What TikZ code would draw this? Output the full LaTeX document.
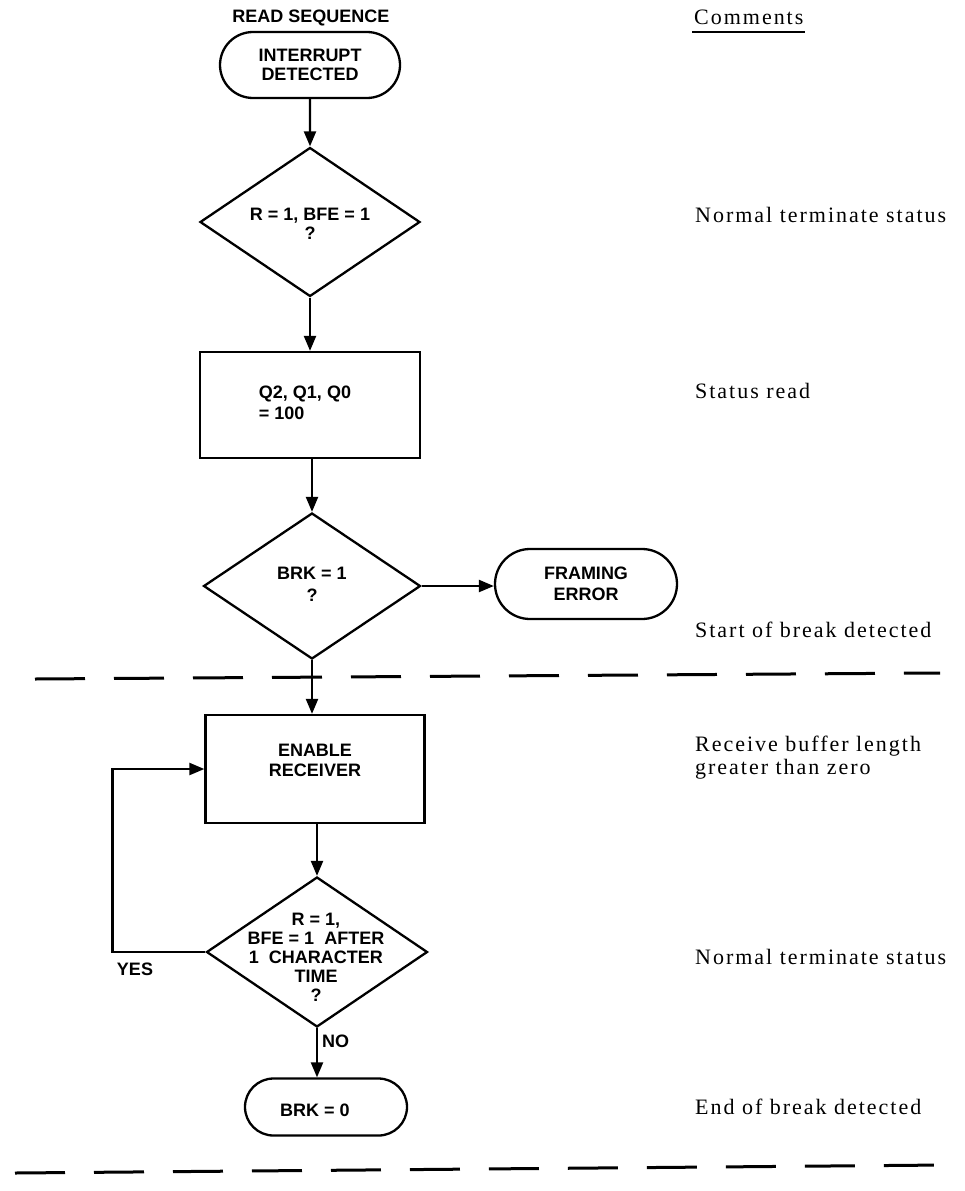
\documentclass[tikz,border=0pt]{standalone}
\usepackage{fontspec}
\setmainfont{Liberation Sans}
\newfontfamily\cmtfont[LetterSpace=9]{Liberation Serif}
\usetikzlibrary{arrows.meta,shapes.geometric,shapes.misc,calc}
\newcommand\lblfont{\fontsize{18}{19}\selectfont\bfseries}
\begin{document}
\begin{tikzpicture}[x=1pt,y=-1pt,
  flow/.style={line width=2.3pt},
  arr/.style={flow,-{Triangle[length=15pt,width=12pt]}},
  term/.style={rounded rectangle,draw,line width=2.3pt,inner sep=0pt,font=\lblfont,align=center},
  dec/.style={diamond,draw,line width=2.3pt,inner sep=0pt},
  proc/.style={rectangle,draw,line width=2.3pt,inner sep=0pt},
  lbl/.style={font=\lblfont,align=center,inner sep=0pt},
  cmt/.style={font={\cmtfont\fontsize{22}{24}\selectfont},anchor=base west,inner sep=0pt},
  sep/.style={line width=3pt,dash pattern=on 50pt off 29pt}]
\useasboundingbox (0,0) rectangle (965,1191);

% flowchart title
\node[lbl] (title) at (311,18) {READ SEQUENCE};

% shapes
\node[term,minimum width=180pt,minimum height=66pt] (start) at (310,65) {INTERRUPT\\DETECTED};
\node[dec,minimum width=220pt,minimum height=149pt] (d1) at (310,222) {};
\node[lbl] (d1t) at (310,224) {R = 1, BFE = 1\\?};
\node[proc,minimum width=220pt,minimum height=106pt] (q) at (310,405) {};
\node[lbl,align=left,font={\fontsize{18}{21}\selectfont\bfseries}] (qt) at (305,403) {Q2, Q1, Q0\\= 100};
\node[dec,minimum width=217pt,minimum height=146pt] (d2) at (312,586) {};
\node[lbl,font={\fontsize{18}{22}\selectfont\bfseries}] (d2t) at (312,584) {BRK = 1\\?};
\node[term,minimum width=182pt,minimum height=70pt,font={\fontsize{18}{21}\selectfont\bfseries}] (fe) at (586,584) {FRAMING\\ERROR};
\node[proc,minimum width=219pt,minimum height=108pt] (en) at (315,769) {};
\node[lbl,font={\fontsize{18}{20}\selectfont\bfseries}] (ent) at (315,760) {ENABLE\\RECEIVER};
\node[dec,minimum width=221pt,minimum height=150pt] (d3) at (317,952) {};
\node[lbl] (d3t) at (316,957) {R = 1,\\BFE = 1\ \ AFTER\\1\ \ CHARACTER\\TIME\\?};
\node[term,minimum width=162pt,minimum height=57pt] (end) at (326,1107) {};
\node[lbl] (endt) at (315,1110) {BRK = 0};

% branch labels
\node[lbl] (yes) at (135,969) {YES};
\node[lbl,anchor=west] (no) at (322,1041) {NO};

% connectors
\draw[arr] (start) -- (d1);
\draw[arr] (d1) -- (q);
\draw[arr] (q.south -| d2.north) -- (d2.north);
\draw[arr] (d2.east) -- (d2.east -| fe.west);
\draw[arr] (d2.south) -- (d2.south |- en.north);
\draw[arr] (en.south -| d3.north) -- (d3.north);
\draw[arr] (d3.west) -- ++(-93,0) |- (en.west);
\draw[arr] (d3.south) -- (d3.south |- end.north);

% section separators
\draw[sep] (35,679) -- (940,673);
\draw[sep] (15,1173) -- (945,1165);

% comments column
\node[cmt] (cmts) at (694,24) {Comments};
\draw[line width=2pt] ($(cmts.base west)+(-2,8)$) -- ($(cmts.base east)+(1,8)$);
\node[cmt] (c1) at (695,222) {Normal terminate status};
\node[cmt] (c2) at (695,398) {Status read};
\node[cmt] (c3) at (695,637) {Start of break detected};
\node[cmt] (c4) at (695,751) {Receive buffer length};
\node[cmt] (c5) at (695,774) {greater than zero};
\node[cmt] (c6) at (695,964) {Normal terminate status};
\node[cmt] (c7) at (695,1114) {End of break detected};
\end{tikzpicture}
\end{document}
